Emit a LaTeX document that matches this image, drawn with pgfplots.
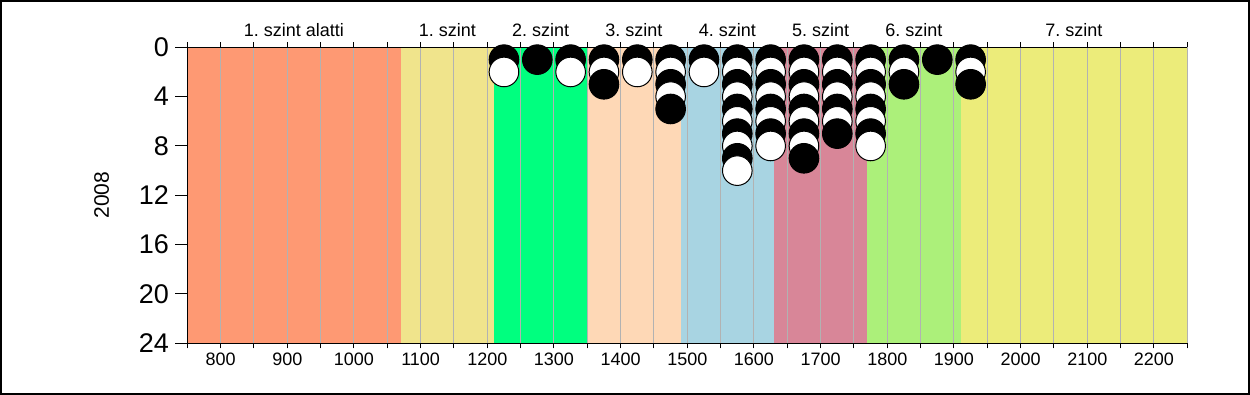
\documentclass[border=0pt]{standalone}
\usepackage{fontspec}
\setmainfont{Liberation Sans}
\usepackage{pgfplots}
\pgfplotsset{compat=1.18}
\definecolor{cA}{RGB}{254,153,115}
\definecolor{cB}{RGB}{240,228,140}
\definecolor{cC}{RGB}{0,255,127}
\definecolor{cD}{RGB}{254,216,182}
\definecolor{cE}{RGB}{168,212,226}
\definecolor{cF}{RGB}{216,134,152}
\definecolor{cG}{RGB}{172,240,122}
\definecolor{cH}{RGB}{236,236,122}
\definecolor{gridgray}{RGB}{178,178,178}
\tikzset{bandlab/.style={anchor=base, yshift=5.3pt, inner sep=0pt, font=\fontsize{9}{10}\selectfont}}
\begin{document}
\frenchspacing
\begin{tikzpicture}
\path[use as bounding box] (0,0) rectangle (625pt,197.5pt);
\draw[line width=1pt] (0.5pt,0.5pt) rectangle (624.5pt,197pt);
\begin{axis}[
  at={(93.65pt,25.85pt)}, anchor=south west,
  scale only axis, width=500pt, height=148pt,
  xmin=750, xmax=2250, ymin=0, ymax=24, y dir=reverse,
  axis x line*=box, axis y line*=left,
  axis on top, clip=false,
  axis line style={line width=0.5pt, black},
  tick align=outside,
  major tick length=2.5pt, minor tick length=2.5pt,
  tick style={line width=0.5pt, black},
  xtick={800,900,...,2200},
  minor xtick={750,850,...,2250},
  xmajorgrids, xminorgrids,
  major grid style={gridgray, line width=0.5pt},
  minor grid style={gridgray, line width=0.5pt},
  ytick=\empty,
  extra y ticks={0,4,8,12,16,20,24},
  extra y tick style={major tick length=6pt, yticklabel style={font=\fontsize{13.5}{15}\selectfont, inner sep=0pt, xshift=-3pt}},
  xticklabel style={font=\fontsize{9}{10}\selectfont, inner sep=0pt, yshift=-2pt},
  /pgf/number format/assume math mode=true,
  /pgf/number format/1000 sep={},
  ylabel={2008},
  every axis y label/.style={at={(axis description cs:-0.0856,0.5)}, rotate=90, anchor=center, font=\fontsize{10.5}{12}\selectfont},
]
\addplot[fill=cA, draw=none] coordinates {(750,0) (1070,0) (1070,24) (750,24)} -- cycle;
\addplot[fill=cB, draw=none] coordinates {(1070,0) (1210,0) (1210,24) (1070,24)} -- cycle;
\addplot[fill=cC, draw=none] coordinates {(1210,0) (1350,0) (1350,24) (1210,24)} -- cycle;
\addplot[fill=cD, draw=none] coordinates {(1350,0) (1490,0) (1490,24) (1350,24)} -- cycle;
\addplot[fill=cE, draw=none] coordinates {(1490,0) (1630,0) (1630,24) (1490,24)} -- cycle;
\addplot[fill=cF, draw=none] coordinates {(1630,0) (1770,0) (1770,24) (1630,24)} -- cycle;
\addplot[fill=cG, draw=none] coordinates {(1770,0) (1910,0) (1910,24) (1770,24)} -- cycle;
\addplot[fill=cH, draw=none] coordinates {(1910,0) (2250,0) (2250,24) (1910,24)} -- cycle;
\addplot[scatter, only marks, mark size=7.4pt,
  scatter src=explicit symbolic,
  scatter/classes={
    b={mark=*, fill=black, draw=black, line width=0.5pt},
    w={mark=*, fill=white, draw=black, line width=0.5pt}}]
  table[meta=c] {
x y c
1225 1 b
1225 2 w
1275 1 b
1325 1 b
1325 2 w
1375 1 b
1375 2 w
1375 3 b
1425 1 b
1425 2 w
1475 1 b
1475 2 w
1475 3 b
1475 4 w
1475 5 b
1525 1 b
1525 2 w
1575 1 b
1575 2 w
1575 3 b
1575 4 w
1575 5 b
1575 6 w
1575 7 b
1575 8 w
1575 9 b
1575 10 w
1625 1 b
1625 2 w
1625 3 b
1625 4 w
1625 5 b
1625 6 w
1625 7 b
1625 8 w
1675 1 b
1675 2 w
1675 3 b
1675 4 w
1675 5 b
1675 6 w
1675 7 b
1675 8 w
1675 9 b
1725 1 b
1725 2 w
1725 3 b
1725 4 w
1725 5 b
1725 6 w
1725 7 b
1775 1 b
1775 2 w
1775 3 b
1775 4 w
1775 5 b
1775 6 w
1775 7 b
1775 8 w
1825 1 b
1825 2 w
1825 3 b
1875 1 b
1925 1 b
1925 2 w
1925 3 b
};
\node[bandlab] at (axis cs:910,0) {1. szint alatti};
\node[bandlab] at (axis cs:1140,0) {1. szint};
\node[bandlab] at (axis cs:1280,0) {2. szint};
\node[bandlab] at (axis cs:1420,0) {3. szint};
\node[bandlab] at (axis cs:1560,0) {4. szint};
\node[bandlab] at (axis cs:1700,0) {5. szint};
\node[bandlab] at (axis cs:1840,0) {6. szint};
\node[bandlab] at (axis cs:2080,0) {7. szint};
\end{axis}
\end{tikzpicture}
\end{document}
